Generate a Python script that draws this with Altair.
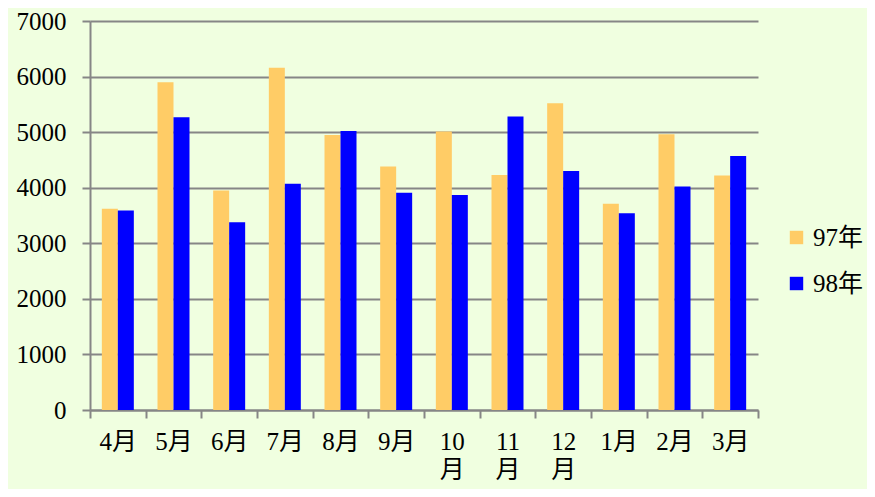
import altair as alt
import pandas as pd

months = ["4月", "5月", "6月", "7月", "8月", "9月", "10月", "11月", "12月", "1月", "2月", "3月"]
series = ["97年", "98年"]
v97 = [3620, 5900, 3950, 6160, 4950, 4380, 5010, 4230, 5520, 3710, 4960, 4220]
v98 = [3590, 5270, 3380, 4070, 5020, 3910, 3870, 5280, 4300, 3540, 4020, 4570]
y_ticks = [0, 1000, 2000, 3000, 4000, 5000, 6000, 7000]

rows = []
for m, a, b in zip(months, v97, v98):
    rows.append({"month": m, "year": series[0], "value": a})
    rows.append({"month": m, "year": series[1], "value": b})
df = pd.DataFrame(rows)

FONT = "Liberation Serif, Noto Sans CJK JP"
GRID = "#868686"
FS = 25

chart = alt.Chart(df).mark_bar(stroke=None).encode(
    x=alt.X(
        "month:N",
        sort=months,
        title=None,
        scale=alt.Scale(paddingInner=0, paddingOuter=0),
        axis=alt.Axis(
            tickBand="extent",
            labelAngle=0,
            labelFont=FONT,
            labelFontSize=FS,
            labelColor="black",
            labelPadding=11,
            labelBaseline="top",
            labelLineHeight=28,
            labelExpr="length(datum.label) > 2 ? [substring(datum.label, 0, 2), '月'] : datum.label",
            domainColor=GRID,
            domainWidth=2,
            tickColor=GRID,
            tickWidth=2,
            tickSize=8,
            grid=False,
        ),
    ),
    xOffset=alt.XOffset(
        "year:N",
        sort=series,
        scale=alt.Scale(paddingInner=0, paddingOuter=0.74),
    ),
    y=alt.Y(
        "value:Q",
        title=None,
        scale=alt.Scale(domain=[0, 7000], nice=False),
        axis=alt.Axis(
            values=y_ticks,
            format="d",
            labelFont=FONT,
            labelFontSize=FS,
            labelColor="black",
            labelPadding=16,
            domainColor=GRID,
            domainWidth=2,
            tickColor=GRID,
            tickWidth=2,
            tickSize=8,
            gridColor=GRID,
            gridWidth=2,
            gridOpacity=1,
        ),
    ),
    color=alt.Color(
        "year:N",
        scale=alt.Scale(domain=series, range=["#FFCC66", "#0000FF"]),
        legend=alt.Legend(
            title=None,
            orient="none",
            legendX=694,
            legendY=204,
            symbolType="square",
            symbolSize=180,
            symbolStrokeWidth=0,
            symbolOpacity=1,
            labelFont=FONT,
            labelFontSize=FS,
            labelColor="black",
            labelOffset=4,
            rowPadding=20,
            padding=0,
        ),
    ),
).properties(
    width=668,
    height=389,
    background="#F0FFE0",
    padding={"left": 82, "top": 13, "right": 109, "bottom": 79},
    autosize=alt.AutoSizeParams(type="none"),
).configure_view(stroke=None).configure_legend(labelFont=FONT)

chart.save("out.html", embed_options={"renderer": "svg", "actions": False})
